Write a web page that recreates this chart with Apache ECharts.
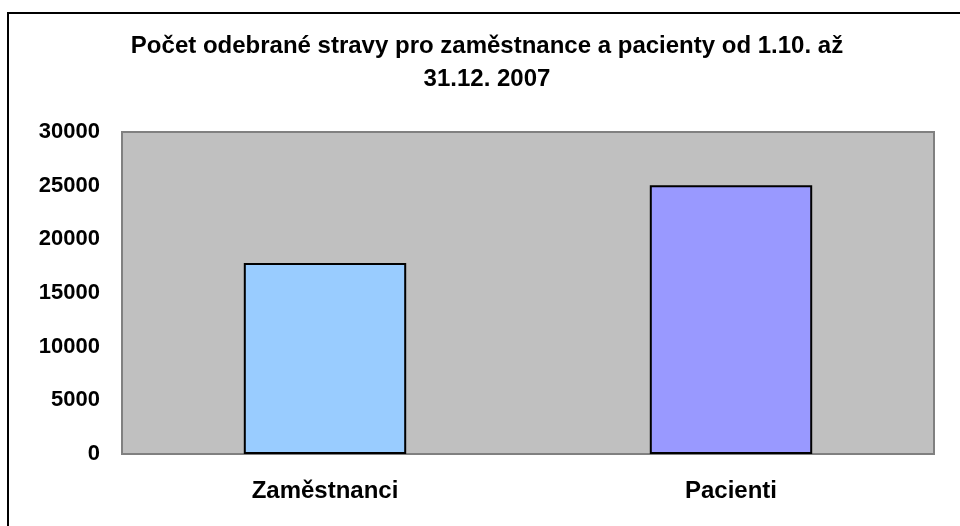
<!DOCTYPE html>
<html>
<head>
<meta charset="UTF-8">
<title>Počet odebrané stravy</title>
<script src="https://cdn.jsdelivr.net/npm/echarts@6/dist/echarts.min.js"></script>
<style>
  html, body { margin: 0; padding: 0; background: #fff; }
  #container { width: 960px; height: 526px; }
</style>
</head>
<body>
<div id="container"></div>
<script>
// data
var categories = ['Zaměstnanci', 'Pacienti'];
var values = [17800, 25050];
var barColors = ['#99CCFF', '#9999FF'];
var yTicks = [0, 5000, 10000, 15000, 20000, 25000, 30000];

var font = 'Liberation Sans, Arial, sans-serif';
var myChart = echarts.init(document.getElementById('container'));

var option = {
    backgroundColor: '#fff',
    animation: false,
    title: {
        text: 'Počet odebrané stravy pro zaměstnance a pacienty od 1.10. až\n31.12. 2007',
        left: 487,
        textAlign: 'center',
        top: 30,
        padding: 0,
        textStyle: {
            fontFamily: font,
            fontSize: 24,
            fontWeight: 'bold',
            color: '#000',
            lineHeight: 33
        }
    },
    // outer frame
    graphic: [{
        type: 'rect',
        silent: true,
        z: -1,
        shape: { x: 8, y: 13, width: 1000, height: 1000 },
        style: { fill: null, stroke: '#000', lineWidth: 2 }
    }],
    grid: {
        left: 122,
        right: 26,
        top: 132,
        bottom: 72,
        show: true,
        backgroundColor: '#C0C0C0',
        borderColor: '#808080',
        borderWidth: 2
    },
    xAxis: {
        type: 'category',
        data: categories,
        axisLine: { show: false },
        axisTick: { show: false },
        axisLabel: {
            margin: 25,
            fontFamily: font,
            fontSize: 24,
            fontWeight: 'bold',
            color: '#000'
        }
    },
    yAxis: {
        type: 'value',
        min: yTicks[0],
        max: yTicks[yTicks.length - 1],
        interval: yTicks[1] - yTicks[0],
        axisLine: { show: false },
        axisTick: { show: false },
        splitLine: { show: false },
        axisLabel: {
            margin: 22,
            fontFamily: font,
            fontSize: 22,
            fontWeight: 'bold',
            color: '#000',
            formatter: function (v) { return String(v); }
        }
    },
    series: [{
        type: 'bar',
        barWidth: '40%',
        data: values.map(function (v, i) {
            return { value: v, itemStyle: { color: barColors[i] } };
        }),
        itemStyle: { borderColor: '#000', borderWidth: 2 }
    }]
};

myChart.setOption(option);
</script>
</body>
</html>
